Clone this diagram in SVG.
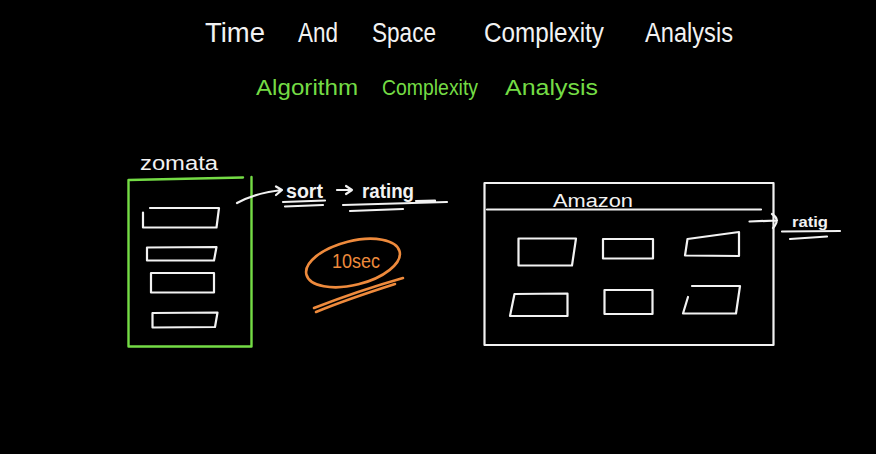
<svg xmlns="http://www.w3.org/2000/svg" width="876" height="454" viewBox="0 0 876 454">
<defs>
<style>
.w{fill:none;stroke:#f2f2f2;stroke-width:2.2;stroke-linecap:round;stroke-linejoin:round}
.g{fill:none;stroke:#74dc45;stroke-width:2.4;stroke-linecap:round;stroke-linejoin:round}
.o{fill:none;stroke:#ee8a3c;stroke-width:2.6;stroke-linecap:round;stroke-linejoin:round}
.tw{fill:#f2f2f2;font-family:"Liberation Sans",Arial,sans-serif}
.tg{fill:#74dc45;font-family:"Liberation Sans",Arial,sans-serif}
.to{fill:#ee8a3c;font-family:"Liberation Sans",Arial,sans-serif}
</style>
</defs>
<rect width="876" height="454" fill="#000"/>

<g id="title">
<text class="tw" font-size="27" y="42"><tspan x="205" textLength="60" lengthAdjust="spacingAndGlyphs">Time</tspan><tspan x="298" textLength="40" lengthAdjust="spacingAndGlyphs">And</tspan><tspan x="372" textLength="64" lengthAdjust="spacingAndGlyphs">Space</tspan><tspan x="484" textLength="120" lengthAdjust="spacingAndGlyphs">Complexity</tspan><tspan x="645" textLength="88" lengthAdjust="spacingAndGlyphs">Analysis</tspan></text>
</g>
<g id="subtitle">
<text class="tg" font-size="22" y="95"><tspan x="256" textLength="102" lengthAdjust="spacingAndGlyphs">Algorithm</tspan><tspan x="382" textLength="96" lengthAdjust="spacingAndGlyphs">Complexity</tspan><tspan x="505" textLength="93" lengthAdjust="spacingAndGlyphs">Analysis</tspan></text>
</g>

<g id="zomata">
<text class="tw" font-size="20" x="140" y="170" textLength="78" lengthAdjust="spacingAndGlyphs">zomata</text>
<path class="g" d="M128.5 180 L243 177.5 M251.5 177 L251.5 346.5 L128.5 346.5 L128.5 180"/>
<path class="w" d="M143 212.5 L143 227.5 L216.5 227.5 L219 208 L150 208"/>
<path class="w" d="M147 247.5 L216.5 247 L214 260.5 L147 260.5 Z"/>
<path class="w" d="M151 273 L214 273 L214 292.5 L151 292.5 Z"/>
<path class="w" d="M152.5 313 L217.5 312.5 L215 327 L152.5 327.5 Z"/>
</g>

<g id="connectors">
<path class="w" d="M237 203 C250 196 262 192 282 190 M276 186.5 L282 190 L276 195"/>
<path class="w" d="M337 190 L352 190 M346 186 L352 190 L346 194"/>
<path class="w" d="M749.5 221.5 L777 220.5 M772 214 C777 217 779 221 773 228"/>
</g>

<g id="sort-rating">
<text class="tw" font-size="20" font-weight="bold" x="286" y="198" textLength="37" lengthAdjust="spacingAndGlyphs">sort</text>
<path class="w" d="M283 202 L325 200.5 M285 206.5 L323 205"/>
<text class="tw" font-size="20" font-weight="bold" x="362" y="198" textLength="52" lengthAdjust="spacingAndGlyphs">rating</text>
<path class="w" d="M343 205 L447 202 M350 211 L403 209 M416 201 L435 200.5"/>
</g>

<g id="ten-sec">
<ellipse class="o" cx="353" cy="263" rx="48" ry="22" transform="rotate(-14 353 263)"/>
<text class="to" font-size="20" x="332" y="268" textLength="48" lengthAdjust="spacingAndGlyphs">10sec</text>
<path class="o" d="M314 308 C345 296 375 286 403 278 M316 312 C345 300 370 292 395 284"/>
</g>

<g id="amazon">
<rect class="w" x="484.5" y="183" width="289" height="162"/>
<path class="w" d="M487 209.5 L761 209.5"/>
<text class="tw" font-size="18" x="553" y="207" textLength="80" lengthAdjust="spacingAndGlyphs">Amazon</text>
<path class="w" d="M518.5 238.5 L576 238.5 L572 265.5 L518.5 265.5 Z"/>
<path class="w" d="M603 239 L653 239 L653 258.5 L603 258.5 Z"/>
<path class="w" d="M687.5 239 L739 232 L739 256 L685 255.5 Z"/>
<path class="w" d="M514.5 294 L567.5 293.5 L567.5 316 L510 316 Z"/>
<path class="w" d="M604.5 290 L652.5 290 L652.5 314 L604.5 314 Z"/>
<path class="w" d="M692 286 L740 286 L736 313.5 L683 313.5 L688 297"/>
</g>

<g id="amazon-rating">
<text class="tw" font-size="14" font-weight="bold" x="792" y="227" textLength="36" lengthAdjust="spacingAndGlyphs">ratig</text>
<path class="w" d="M782 231.5 L840 231 M790 239 L827 236.5"/>
</g>
</svg>
